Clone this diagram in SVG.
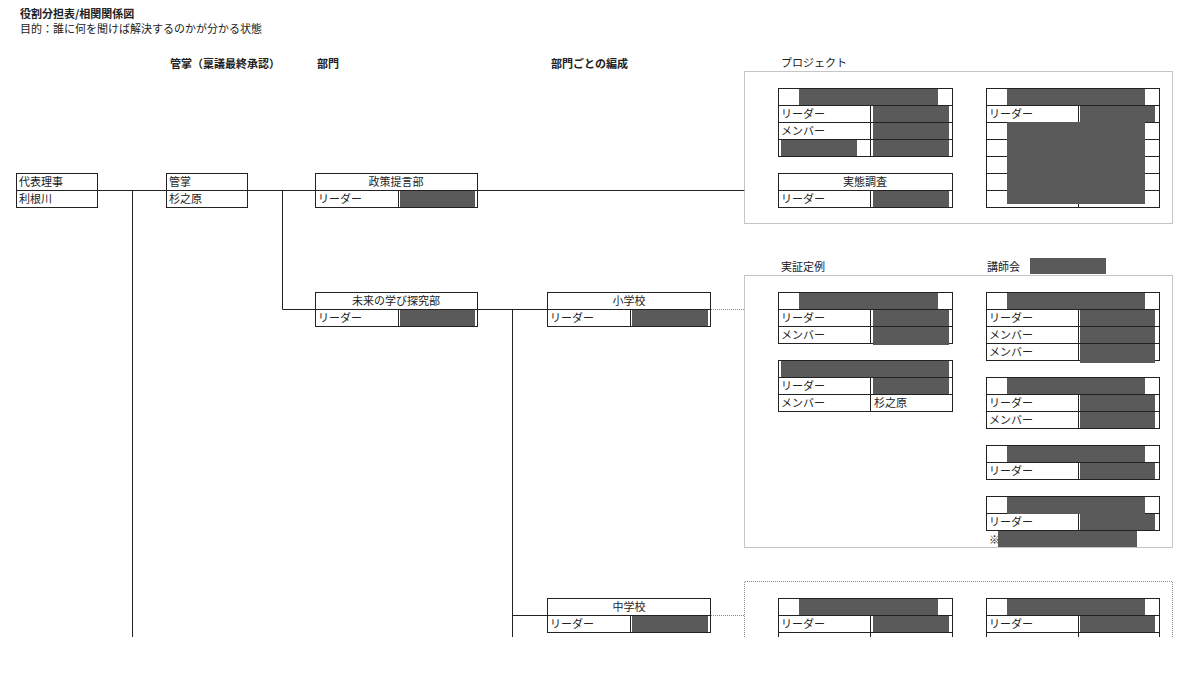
<svg xmlns="http://www.w3.org/2000/svg" width="1200" height="675" viewBox="0 0 1200 675">
<style>
.t{font-family:"Noto Sans CJK JP","Noto Sans CJK SC",sans-serif;font-size:11px;fill:#222}
.hd{font-weight:bold}
.c{text-anchor:middle}
.b{fill:#fff;stroke:#222;stroke-width:1}
.ln{stroke:#222;stroke-width:1;fill:none}
.r{fill:#5a5a5a}
.dot{fill:none;stroke:#8a8a8a;stroke-width:1;stroke-dasharray:1 1}
</style>
<defs>
<clipPath id="page"><rect x="0" y="0" width="1200" height="637"/></clipPath>
</defs>
<rect width="1200" height="675" fill="#fff"/>
<g clip-path="url(#page)">
<g id="titles">
<text class="t hd" x="20" y="18">役割分担表/相関関係図</text>
<text class="t" x="20" y="33" font-size="10.7">目的：誰に何を聞けば解決するのかが分かる状態</text>
<text class="t hd" x="170" y="68">管掌（稟議最終承認）</text>
<text class="t hd" x="317" y="68">部門</text>
<text class="t hd" x="551" y="68">部門ごとの編成</text>
</g>
<g id="connectors">
<path class="ln" d="M97.5 190.5H166.5M247.5 190.5H315.5M477.5 190.5H744.5"/>
<path class="ln" d="M132.5 190.5V637"/>
<path class="ln" d="M282.5 190.5V309.5H315.5"/>
<path class="ln" d="M477.5 309.5H547.5"/>
<path class="ln" d="M512.5 309.5V637"/>
<path class="ln" d="M512.5 615.5H547.5"/>
<path class="dot" d="M711 309.5H744.5M711 615.5H744.5"/>
</g>
<g id="n-daihyo">
<rect class="b" x="16.5" y="173.5" width="81" height="34"/>
<path class="ln" d="M16.5 190.5H97.5"/>
<text class="t" x="19" y="185.5">代表理事</text>
<text class="t" x="19" y="202.5">利根川</text>
</g>
<g id="n-kansho">
<rect class="b" x="166.5" y="173.5" width="81" height="34"/>
<path class="ln" d="M166.5 190.5H247.5"/>
<text class="t" x="169" y="185.5">管掌</text>
<text class="t" x="169" y="202.5">杉之原</text>
</g>
<g id="n-seisaku">
<rect class="b" x="315.5" y="173.5" width="162" height="34"/>
<rect class="r" x="400" y="191" width="75" height="16"/>
<path class="ln" d="M315.5 190.5H477.5M398.5 190.5V207.5"/>
<text class="t c" x="396" y="185.5">政策提言部</text>
<text class="t" x="318" y="202.5">リーダー</text>
</g>
<g id="n-mirai">
<rect class="b" x="315.5" y="292.5" width="162" height="34"/>
<rect class="r" x="400" y="310" width="75" height="16"/>
<path class="ln" d="M315.5 309.5H477.5M398.5 309.5V326.5"/>
<text class="t c" x="396" y="304.5">未来の学び探究部</text>
<text class="t" x="318" y="321.5">リーダー</text>
</g>
<g id="n-sho">
<rect class="b" x="547.5" y="292.5" width="163" height="34"/>
<rect class="r" x="632" y="310" width="76" height="16"/>
<path class="ln" d="M547.5 309.5H710.5M630.5 309.5V326.5"/>
<text class="t c" x="629" y="304.5">小学校</text>
<text class="t" x="550" y="321.5">リーダー</text>
</g>
<g id="n-chu">
<rect class="b" x="547.5" y="598.5" width="163" height="34"/>
<rect class="r" x="632" y="616" width="76" height="16"/>
<path class="ln" d="M547.5 615.5H710.5M630.5 615.5V632.5"/>
<text class="t c" x="629" y="610.5">中学校</text>
<text class="t" x="550" y="627.5">リーダー</text>
</g>
<g id="g-project">
<rect class="dot" x="744.5" y="71.5" width="428" height="152"/>
<text class="t" x="781" y="67">プロジェクト</text>
</g>
<g id="p-box1">
<rect class="b" x="778.5" y="88.5" width="174" height="68"/>
<path class="ln" d="M778.5 105.5H952.5M778.5 122.5H952.5M778.5 139.5H952.5M870.5 105.5V156.5"/>
<rect class="r" x="799" y="89" width="139" height="16"/>
<rect class="r" x="873" y="106" width="76" height="16"/>
<rect class="r" x="873" y="123" width="76" height="16"/>
<rect class="r" x="873" y="140" width="76" height="16"/>
<rect class="r" x="781" y="140" width="76" height="16"/>
<text class="t" x="781" y="117.5">リーダー</text>
<text class="t" x="781" y="134.5">メンバー</text>
</g>
<g id="p-box2">
<rect class="b" x="778.5" y="173.5" width="174" height="34"/>
<path class="ln" d="M778.5 190.5H952.5M870.5 190.5V207.5"/>
<rect class="r" x="873" y="191" width="76" height="16"/>
<text class="t c" x="865" y="185.5">実態調査</text>
<text class="t" x="781" y="202.5">リーダー</text>
</g>
<g id="p-box3">
<rect class="b" x="986.5" y="88.5" width="173" height="119"/>
<path class="ln" d="M986.5 105.5H1159.5M986.5 122.5H1159.5M986.5 139.5H1159.5M986.5 156.5H1159.5M986.5 173.5H1159.5M986.5 190.5H1159.5M1078.5 105.5V207.5"/>
<rect class="r" x="1007" y="89" width="138" height="16"/>
<rect class="r" x="1080" y="106" width="75" height="16"/>
<rect class="r" x="1007" y="122" width="138" height="82"/>
<text class="t" x="989" y="117.5">リーダー</text>
</g>
<g id="g-jissho">
<rect class="dot" x="744.5" y="275.5" width="428" height="272"/>
<text class="t" x="781" y="271">実証定例</text>
<text class="t" x="987" y="271">講師会</text>
<rect class="r" x="1030" y="258" width="76" height="16"/>
</g>
<g id="j-boxA">
<rect class="b" x="778.5" y="292.5" width="174" height="51"/>
<rect class="r" x="799" y="293" width="139" height="16"/>
<rect class="r" x="873" y="310" width="76" height="16"/>
<rect class="r" x="873" y="327" width="76" height="18"/>
<path class="ln" d="M778.5 309.5H952.5M778.5 326.5H952.5M870.5 309.5V343.5"/>
<text class="t" x="781" y="321.5">リーダー</text>
<text class="t" x="781" y="338.5">メンバー</text>
</g>
<g id="j-boxB">
<rect class="b" x="778.5" y="360.5" width="174" height="51"/>
<rect class="r" x="781" y="361" width="168" height="16"/>
<rect class="r" x="873" y="378" width="76" height="16"/>
<path class="ln" d="M778.5 377.5H952.5M778.5 394.5H952.5M870.5 377.5V411.5"/>
<text class="t" x="781" y="389.5">リーダー</text>
<text class="t" x="781" y="406.5">メンバー</text>
<text class="t" x="874" y="406.5">杉之原</text>
</g>
<g id="j-boxC">
<rect class="b" x="986.5" y="292.5" width="173" height="68"/>
<rect class="r" x="1007" y="293" width="138" height="16"/>
<rect class="r" x="1080" y="310" width="75" height="16"/>
<rect class="r" x="1080" y="327" width="75" height="16"/>
<rect class="r" x="1080" y="344" width="75" height="19"/>
<path class="ln" d="M986.5 309.5H1159.5M986.5 326.5H1159.5M986.5 343.5H1159.5M1078.5 309.5V360.5"/>
<text class="t" x="989" y="321.5">リーダー</text>
<text class="t" x="989" y="338.5">メンバー</text>
<text class="t" x="989" y="355.5">メンバー</text>
</g>
<g id="j-boxD">
<rect class="b" x="986.5" y="377.5" width="173" height="51"/>
<rect class="r" x="1007" y="378" width="138" height="16"/>
<rect class="r" x="1080" y="395" width="75" height="16"/>
<rect class="r" x="1080" y="412" width="75" height="16"/>
<path class="ln" d="M986.5 394.5H1159.5M986.5 411.5H1159.5M1078.5 394.5V428.5"/>
<text class="t" x="989" y="406.5">リーダー</text>
<text class="t" x="989" y="423.5">メンバー</text>
</g>
<g id="j-boxE">
<rect class="b" x="986.5" y="445.5" width="173" height="34"/>
<rect class="r" x="1007" y="446" width="138" height="16"/>
<rect class="r" x="1080" y="463" width="75" height="16"/>
<path class="ln" d="M986.5 462.5H1159.5M1078.5 462.5V479.5"/>
<text class="t" x="989" y="474.5">リーダー</text>
</g>
<g id="j-boxF">
<rect class="b" x="986.5" y="496.5" width="173" height="34"/>
<rect class="r" x="1080" y="514" width="75" height="16"/>
<path class="ln" d="M986.5 513.5H1159.5M1078.5 513.5V530.5"/>
<rect class="r" x="1007" y="497" width="138" height="17"/>
<text class="t" x="989" y="525.5">リーダー</text>
<text class="t" x="989" y="544" font-size="10">※</text>
<rect class="r" x="998" y="531" width="139" height="16"/>
</g>
<g id="g-chu">
<path class="dot" d="M744.5 637V581.5H1172.5V637"/>
</g>
<g id="c-boxG">
<rect class="b" x="778.5" y="598.5" width="174" height="51"/>
<rect class="r" x="799" y="599" width="139" height="16"/>
<rect class="r" x="873" y="616" width="76" height="16"/>
<path class="ln" d="M778.5 615.5H952.5M778.5 632.5H952.5M870.5 615.5V649"/>
<text class="t" x="781" y="627.5">リーダー</text>
</g>
<g id="c-boxH">
<rect class="b" x="986.5" y="598.5" width="173" height="51"/>
<rect class="r" x="1007" y="599" width="138" height="16"/>
<rect class="r" x="1080" y="616" width="75" height="16"/>
<path class="ln" d="M986.5 615.5H1159.5M986.5 632.5H1159.5M1078.5 615.5V649"/>
<text class="t" x="989" y="627.5">リーダー</text>
</g>
</g>
</svg>
